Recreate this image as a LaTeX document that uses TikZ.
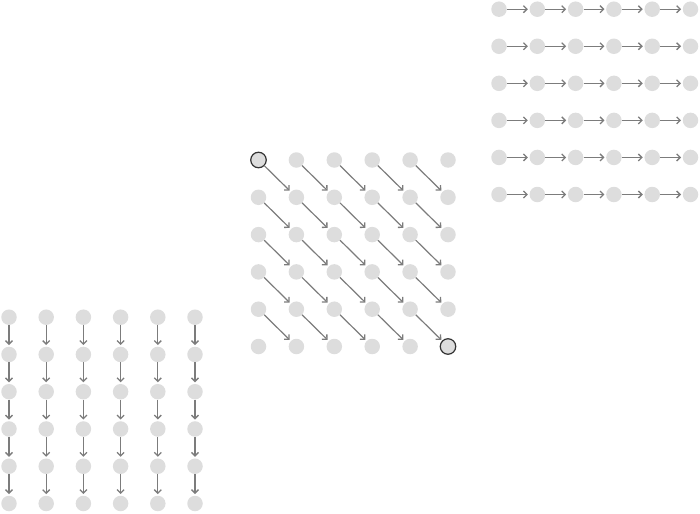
\documentclass[tikz,border=0pt]{standalone}
\usetikzlibrary{arrows.meta}
\definecolor{dotfill}{HTML}{DDDDDD}
\definecolor{arrowgray}{HTML}{7C7C7C}
\definecolor{rimdark}{HTML}{333333}
\begin{document}
\begin{tikzpicture}[x=1pt,y=-1pt,
  dot/.style={circle,fill=dotfill,draw=none,minimum size=15.5pt,inner sep=0pt},
  hidot/.style={dot,draw=rimdark,line width=1.2pt},
  link/.style={draw=arrowgray,line width=1.2pt,shorten >=1.5pt,
    -{Straight Barb[length=3.5pt,width=7pt,line width=1.3pt]}}]
\useasboundingbox (0,0) rectangle (700,513);
% top-right grid (horizontal)
\foreach \r in {0,...,5}{
  \foreach \c in {0,...,5}{
    \node[dot] (h-\r-\c) at ({499+38.3*\c},{9.2+37.06*\r}) {};
  }
}
\foreach \r in {0,...,5}{
  \foreach \c [evaluate=\c as \n using int(\c+1)] in {0,...,4}{
    \draw[link] (h-\r-\c) -- (h-\r-\n);
  }
}
% center grid (diagonal)
\foreach \r in {0,...,5}{
  \foreach \c in {0,...,5}{
    \node[dot] (c-\r-\c) at ({258.5+37.9*\c},{160+37.3*\r}) {};
  }
}
\node[hidot] at (c-0-0) {};
\node[hidot] at (c-5-5) {};
\foreach \r [evaluate=\r as \rn using int(\r+1)] in {0,...,4}{
  \foreach \c [evaluate=\c as \n using int(\c+1)] in {0,...,4}{
    \draw[link] (c-\r-\c) -- (c-\rn-\n);
  }
}
% bottom-left grid (vertical)
\foreach \r in {0,...,5}{
  \foreach \c in {0,...,5}{
    \node[dot] (v-\r-\c) at ({9+37.2*\c},{317.2+37.26*\r}) {};
  }
}
\foreach \r [evaluate=\r as \rn using int(\r+1)] in {0,...,4}{
  \foreach \c in {0,...,5}{
    \draw[link] (v-\r-\c) -- (v-\rn-\c);
  }
}
\end{tikzpicture}
\end{document}
